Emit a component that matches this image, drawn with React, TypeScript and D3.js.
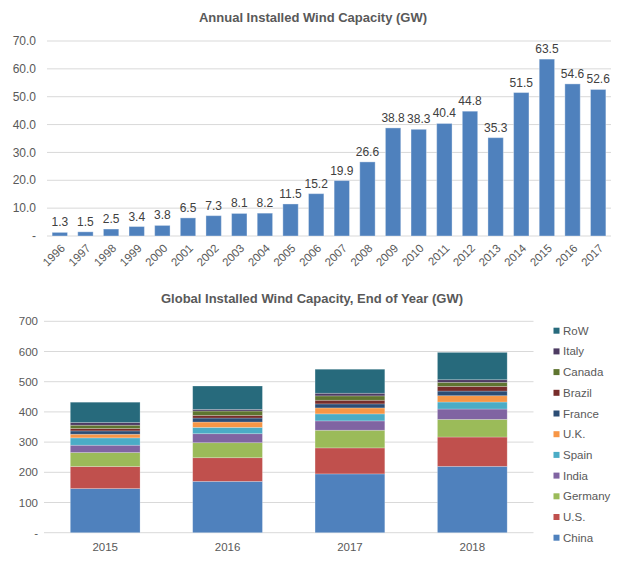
import React from 'react';
import * as d3 from 'd3';

// Annual installs (GW)
const annualYears = ['1996', '1997', '1998', '1999', '2000', '2001', '2002', '2003', '2004', '2005', '2006',
  '2007', '2008', '2009', '2010', '2011', '2012', '2013', '2014', '2015', '2016', '2017'];
const annualValues = [1.3, 1.5, 2.5, 3.4, 3.8, 6.5, 7.3, 8.1, 8.2, 11.5, 15.2,
  19.9, 26.6, 38.8, 38.3, 40.4, 44.8, 35.3, 51.5, 63.5, 54.6, 52.6];
const annualTicks = [0, 10, 20, 30, 40, 50, 60, 70];

// Cumulative capacity by country (GW), bottom to top of the stack
const cumYears = ['2015', '2016', '2017', '2018'];
const countries = ['China', 'U.S.', 'Germany', 'India', 'Spain', 'U.K.', 'France', 'Brazil', 'Canada', 'Italy', 'RoW'];
const china = [146.1, 170.0, 194.7, 219.7];
const us = [73.0, 78.3, 86.1, 97.1];
const germany = [46.3, 49.7, 58.5, 58.5];
const india = [24.3, 29.8, 30.9, 34.2];
const spain = [24.3, 21.0, 23.2, 23.2];
const uk = [12.1, 17.6, 19.8, 20.9];
const france = [11.0, 13.3, 13.3, 15.4];
const brazil = [7.8, 8.8, 12.1, 15.5];
const canada = [11.0, 14.4, 14.4, 13.3];
const italy = [8.9, 5.5, 8.8, 8.8];
const row = [67.3, 77.3, 79.5, 90.5];
const cumTicks = [0, 100, 200, 300, 400, 500, 600, 700];

const seriesValues = [china, us, germany, india, spain, uk, france, brazil, canada, italy, row];
const colors = ['#4F81BD', '#C0504D', '#9BBB59', '#8064A2', '#4BACC6', '#F79646',
  '#2C4D75', '#772C2A', '#5F7530', '#4D3B62', '#276A7C'];

const font = '"Liberation Sans", Arial, sans-serif';
const gray = '#595959';
const gridColor = '#d9d9d9';

const App: React.FC = () => {
  // top chart scales
  const x1 = d3.scaleBand<string>().domain(annualYears).range([47, 611]).paddingInner(0.4).paddingOuter(0.2);
  const y1 = d3.scaleLinear().domain([0, 70]).range([236, 41]);

  // bottom chart scales
  const x2 = d3.scaleBand<string>().domain(cumYears).range([44, 533.5]).paddingInner(0.43).paddingOuter(0.215);
  const y2 = d3.scaleLinear().domain([0, 700]).range([532.7, 321.3]);

  const table = cumYears.map((yr, i) => {
    const r: any = { year: yr };
    countries.forEach((c, j) => { r[c] = seriesValues[j][i]; });
    return r;
  });
  const stacked = d3.stack<any>().keys(countries)(table);

  const fmtTop = (v: number) => (v === 0 ? '-' : d3.format('.1f')(v));
  const fmtBot = (v: number) => (v === 0 ? '-' : String(v));

  return (
    <svg width={624} height={562} style={{ position: 'absolute', left: 0, top: 0, fontFamily: font }}>
      {/* ---------- Annual chart ---------- */}
      <text x={313} y={22} textAnchor="middle" fontSize={13} fontWeight="bold" fill={gray}>
        Annual Installed Wind Capacity (GW)
      </text>
      {annualTicks.map(t => (
        <g key={'g1' + t}>
          <line x1={47} x2={611} y1={y1(t)} y2={y1(t)} stroke={gridColor} strokeWidth={1} />
          <text x={36} y={y1(t)} dy="0.35em" textAnchor="end" fontSize={12} fill={gray}>{fmtTop(t)}</text>
        </g>
      ))}
      {annualYears.map((yr, i) => {
        const x = x1(yr)!;
        const v = annualValues[i];
        return (
          <g key={'b1' + yr}>
            <rect x={x} y={y1(v)} width={x1.bandwidth()} height={y1(0) - y1(v)}
              fill="#4F81BD" stroke="#ffffff" strokeOpacity={0.35} strokeWidth={1} />
            <text x={x + x1.bandwidth() / 2} y={y1(v) - 6} textAnchor="middle" fontSize={12} fill="#404040">
              {d3.format('.1f')(v)}
            </text>
            <text transform={`translate(${x + x1.bandwidth() / 2 + 3},${y1(0) + 10}) rotate(-45)`}
              textAnchor="end" dy="0.35em" fontSize={11.5} fill={gray}>{yr}</text>
          </g>
        );
      })}

      {/* ---------- Cumulative chart ---------- */}
      <text x={312} y={303} textAnchor="middle" fontSize={13} fontWeight="bold" fill={gray}>
        Global Installed Wind Capacity, End of Year (GW)
      </text>
      {cumTicks.map(t => (
        <g key={'g2' + t}>
          <line x1={44} x2={533.5} y1={y2(t)} y2={y2(t)} stroke={gridColor} strokeWidth={1} />
          <text x={38} y={y2(t)} dy="0.35em" textAnchor="end" fontSize={11.5} fill={gray}>{fmtBot(t)}</text>
        </g>
      ))}
      {stacked.map((layer, j) => (
        <g key={'s' + countries[j]} fill={colors[j]}>
          {layer.map((d, i) => (
            <rect key={cumYears[i]} x={x2(cumYears[i])} y={y2(d[1])} width={x2.bandwidth()}
              height={y2(d[0]) - y2(d[1])} stroke="#ffffff" strokeOpacity={0.3} strokeWidth={0.75} />
          ))}
        </g>
      ))}
      {cumYears.map(yr => (
        <text key={'xl' + yr} x={x2(yr)! + x2.bandwidth() / 2} y={551} textAnchor="middle" fontSize={11.5} fill={gray}>
          {yr}
        </text>
      ))}
      {/* legend, top entry is RoW */}
      {countries.slice().reverse().map((c, k) => {
        const j = countries.length - 1 - k;
        const cy = 330.7 + k * 20.7;
        return (
          <g key={'lg' + c}>
            <rect x={553.5} y={cy - 3} width={6} height={6} fill={colors[j]} />
            <text x={563} y={cy} dy="0.35em" fontSize={11.5} fill={gray}>{c}</text>
          </g>
        );
      })}
    </svg>
  );
};

export default App;
